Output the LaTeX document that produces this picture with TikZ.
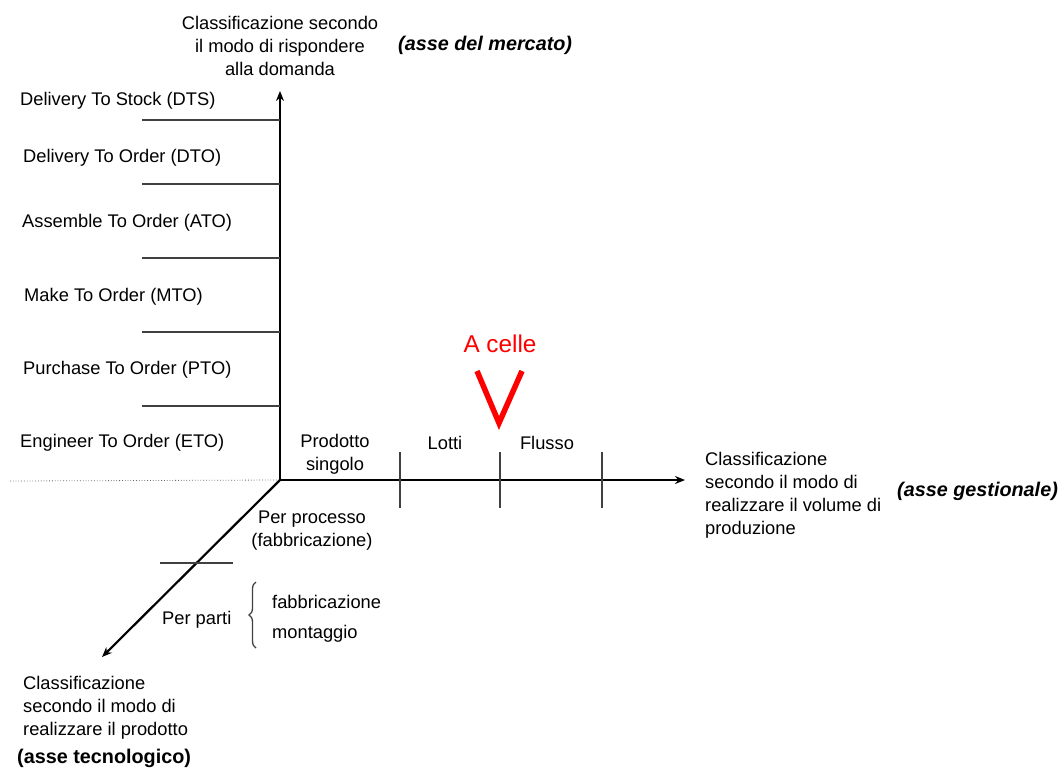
\documentclass[tikz,border=0pt]{standalone}
\usepackage{fontspec}
\setmainfont{Liberation Sans}
\usetikzlibrary{arrows.meta,decorations.pathreplacing}
\begin{document}
\begin{tikzpicture}[x=1pt,y=-1pt,
  lab/.style={inner sep=0pt,yshift=-1.5pt,font=\fontsize{18.3}{23}\selectfont},
  boldlab/.style={inner sep=0pt,yshift=-1.5pt,font=\fontsize{19.8}{24}\selectfont\bfseries},
  axis/.style={line width=2.2pt,-{Stealth[length=10pt,width=8pt]}},
  tick/.style={line width=1.4pt,black!75}
]
\useasboundingbox (0,0) rectangle (1064,769);
% axes
\coordinate (O) at (280,480);
\coordinate (ytip) at (280,91);
\coordinate (xtip) at (685,480);
\coordinate (ztip) at (102,657);
\coordinate (dotl) at (10,481);
\draw[black!60,dotted,line width=0.8pt] (dotl) -- (O);
\draw[axis] (O) -- (ytip);
\draw[axis] (O) -- (xtip);
\draw[axis] (O) -- (ztip);
% ticks on vertical axis
\foreach \yy in {120,184,258,332,406} \draw[tick] (142,\yy) -- (280,\yy);
% ticks on horizontal axis
\foreach \xx in {400,500,602} \draw[tick] (\xx,452) -- (\xx,508);
% tick on diagonal axis
\draw[tick] (160,563) -- (233,563);
% brace
\draw[black!75,line width=1.3pt,decorate,decoration={brace,amplitude=7pt}] (256,648) -- (256,582);
% red V
\draw[red,line width=5.5pt,line cap=butt,line join=miter] (477,371) -- (499,423) -- (522,371);
\node[inner sep=0pt,text=red,font=\fontsize{24.3}{28}\selectfont] (acelle) at (500,344) {A celle};
% vertical axis labels
\node[lab,anchor=west] (dts) at (20,99) {Delivery To Stock (DTS)};
\node[lab,anchor=west] (dto) at (23,156) {Delivery To Order (DTO)};
\node[lab,anchor=west] (ato) at (22,221) {Assemble To Order (ATO)};
\node[lab,anchor=west] (mto) at (24,295) {Make To Order (MTO)};
\node[lab,anchor=west] (pto) at (23,368) {Purchase To Order (PTO)};
\node[lab,anchor=west] (eto) at (20,441) {Engineer To Order (ETO)};
\node[lab,align=center] (ytitle) at (280,44) {Classificazione secondo\\il modo di rispondere\\alla domanda};
\node[boldlab,anchor=west,font=\fontsize{19.8}{24}\selectfont\bfseries\itshape] (mercato) at (398,44) {(asse del mercato)};
% horizontal axis labels
\node[lab,align=center] (prod) at (335,453) {Prodotto\\singolo};
\node[lab] (lotti) at (445,441) {Lotti};
\node[lab] (flusso) at (547,441) {Flusso};
\node[lab,anchor=west,align=left] (xtitle) at (705,494) {Classificazione\\secondo il modo di\\realizzare il volume di\\produzione};
\node[boldlab,anchor=west,font=\fontsize{19.8}{24}\selectfont\bfseries\itshape] (gest) at (897,490) {(asse gestionale)};
% diagonal axis labels
\node[lab,align=center] (proc) at (312,529) {Per processo\\(fabbricazione)};
\node[lab,anchor=west] (parti) at (162,618) {Per parti};
\node[lab,anchor=west] (fabb) at (272,600) {fabbricazione};
\node[lab,anchor=west] (mont) at (272,632) {montaggio};
\node[lab,anchor=west,align=left] (ztitle) at (23,706) {Classificazione\\secondo il modo di\\realizzare il prodotto};
\node[boldlab,anchor=west] (tecn) at (17,757) {(asse tecnologico)};
\end{tikzpicture}
\end{document}
